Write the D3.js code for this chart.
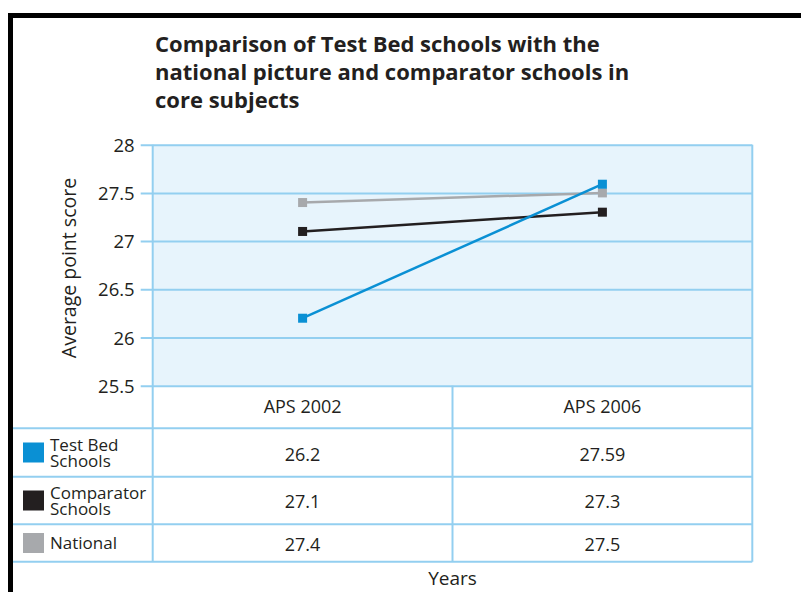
<!DOCTYPE html>
<html>
<head>
<meta charset="utf-8">
<script src="https://cdn.jsdelivr.net/npm/d3@7"></script>
<style>
  body { margin: 0; background: #fff; }
  svg text { font-family: "Open Sans", "Noto Sans", sans-serif; fill: #231f20; }
</style>
</head>
<body>
<svg id="chart" width="801" height="592"></svg>
<script>
// data
var years = ["APS 2002", "APS 2006"];
var seriesNames = ["Test Bed Schools", "Comparator Schools", "National"];
var testBed = [26.2, 27.59];
var comparator = [27.1, 27.3];
var national = [27.4, 27.5];
var yTicks = [25.5, 26, 26.5, 27, 27.5, 28];
var titleLines = ["Comparison of Test Bed schools with the", "national picture and comparator schools in", "core subjects"];

var series = [
  {name: seriesNames[0], label: ["Test Bed", "Schools"], values: testBed, color: "#0a90d4"},
  {name: seriesNames[1], label: ["Comparator", "Schools"], values: comparator, color: "#231f20"},
  {name: seriesNames[2], label: ["National"], values: national, color: "#a7a9ac"}
];

var svg = d3.select("#chart");
var gridColor = "#93cff0";

// frame
svg.append("rect").attr("x", 8).attr("y", 13).attr("width", 793).attr("height", 5).attr("fill", "#000");
svg.append("rect").attr("x", 8).attr("y", 13).attr("width", 5).attr("height", 579).attr("fill", "#000");

var plot = {left: 152.7, right: 752.3, top: 144.7, bottom: 385.7};
var tableLeft = 13;
var rowEdges = [385.7, 428.3, 476.7, 524.3, 561.7];

var x = d3.scaleBand().domain(years).range([plot.left, plot.right]);
var y = d3.scaleLinear().domain([25.5, 28]).range([plot.bottom, plot.top]);

// title
svg.append("text")
  .attr("x", 155).attr("y", 52)
  .attr("font-size", 22).attr("font-weight", "bold")
  .selectAll("tspan").data(titleLines).enter().append("tspan")
    .attr("x", 155).attr("dy", function(d, i) { return i ? 28 : 0; })
    .text(function(d) { return d; });

// plot background
svg.append("rect")
  .attr("x", plot.left).attr("y", plot.top)
  .attr("width", plot.right - plot.left).attr("height", plot.bottom - plot.top)
  .attr("fill", "#e7f4fc");

// y axis with grid
var yAxis = svg.append("g")
  .attr("transform", "translate(" + plot.left + ",0)")
  .call(d3.axisLeft(y).tickValues(yTicks).tickSize(-(plot.right - plot.left)).tickSizeOuter(0)
    .tickFormat(function(d) { return d; }));
yAxis.select(".domain").remove();
yAxis.selectAll(".tick line").attr("stroke", gridColor).attr("stroke-width", 2).attr("x1", -12);
yAxis.selectAll(".tick text").attr("x", -18).attr("font-size", 18.5).attr("dy", "0.36em")
  .attr("font-family", "'Open Sans', sans-serif").attr("fill", "#231f20");

// plot borders
svg.append("line").attr("x1", plot.left).attr("x2", plot.left).attr("y1", plot.top).attr("y2", rowEdges[4])
  .attr("stroke", gridColor).attr("stroke-width", 2);
svg.append("line").attr("x1", plot.right).attr("x2", plot.right).attr("y1", plot.top).attr("y2", rowEdges[4])
  .attr("stroke", gridColor).attr("stroke-width", 2);

// y axis title
svg.append("text")
  .attr("transform", "translate(76,268) rotate(-90)")
  .attr("text-anchor", "middle").attr("font-size", 19.5)
  .text("Average point score");

// table
var table = svg.append("g");
rowEdges.slice(1).forEach(function(ry) {
  table.append("line").attr("x1", tableLeft).attr("x2", plot.right).attr("y1", ry).attr("y2", ry)
    .attr("stroke", gridColor).attr("stroke-width", 2);
});
table.append("line").attr("x1", x(years[1])).attr("x2", x(years[1])).attr("y1", plot.bottom).attr("y2", rowEdges[4])
  .attr("stroke", gridColor).attr("stroke-width", 2);

table.selectAll("text.year").data(years).enter().append("text")
  .attr("class", "year")
  .attr("x", function(d) { return x(d) + x.bandwidth() / 2; })
  .attr("y", 413).attr("text-anchor", "middle").attr("font-size", 18)
  .text(function(d) { return d; });

var rowBase = [461, 508, 551];
series.forEach(function(s, i) {
  var top = rowEdges[i + 1], bottom = rowEdges[i + 2];
  var mid = (top + bottom) / 2;
  table.append("rect").attr("x", 23).attr("y", mid - 10).attr("width", 21).attr("height", 20).attr("fill", s.color);
  var lab = table.append("text").attr("font-size", 17).attr("x", 50)
    .attr("y", s.label.length > 1 ? mid - 1.5 : mid + 6);
  s.label.forEach(function(t, j) {
    lab.append("tspan").attr("x", 50).attr("dy", j ? 16 : 0).text(t);
  });
  table.selectAll(null).data(s.values).enter().append("text")
    .attr("x", function(d, k) { return x(years[k]) + x.bandwidth() / 2; })
    .attr("y", rowBase[i]).attr("text-anchor", "middle").attr("font-size", 18)
    .text(function(d) { return d; });
});

// lines and markers (national first so test bed sits on top)
var line = d3.line()
  .x(function(d, k) { return x(years[k]) + x.bandwidth() / 2; })
  .y(function(d) { return y(d); });

series.slice().reverse().forEach(function(s) {
  svg.append("path").datum(s.values).attr("d", line)
    .attr("fill", "none").attr("stroke", s.color).attr("stroke-width", 2.5);
  svg.selectAll(null).data(s.values).enter().append("rect")
    .attr("x", function(d, k) { return x(years[k]) + x.bandwidth() / 2 - 4.5; })
    .attr("y", function(d) { return y(d) - 4.5; })
    .attr("width", 9).attr("height", 9).attr("fill", s.color);
});

// x axis title
svg.append("text").attr("x", (plot.left + plot.right) / 2).attr("y", 585)
  .attr("text-anchor", "middle").attr("font-size", 19).text("Years");
</script>
</body>
</html>
